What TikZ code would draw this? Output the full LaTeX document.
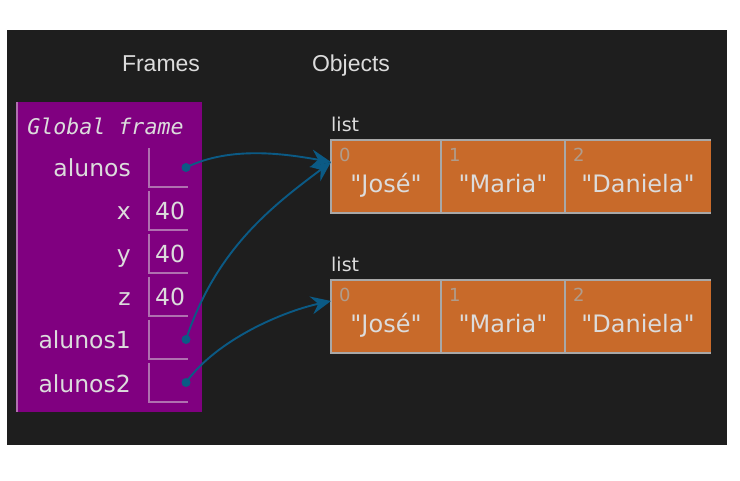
\documentclass[tikz,border=0pt]{standalone}
\usepackage{fontspec}
\usepackage{tikz}
\usetikzlibrary{arrows.meta}
\newfontfamily\valfont{DejaVu Sans}
\newfontfamily\headfont{Liberation Sans}
\newfontfamily\framefont{DejaVu Sans Mono}
\definecolor{bgdark}{HTML}{1E1E1E}
\definecolor{framepurple}{HTML}{800080}
\definecolor{framerule}{HTML}{B070B0}
\definecolor{listorange}{HTML}{C86A2A}
\definecolor{listrule}{HTML}{A8A8A8}
\definecolor{pointerblue}{HTML}{0B5A85}
\definecolor{lighttext}{HTML}{DCDCDC}
\definecolor{indexgray}{HTML}{B09C8C}
\tikzstyle{headlabel}=[text=lighttext, inner sep=0pt, anchor=base, font=\headfont\fontsize{23}{27}\selectfont]
\tikzstyle{framename}=[text=lighttext, inner sep=0pt, anchor=base, font=\framefont\itshape\fontsize{21.6}{26}\selectfont]
\tikzstyle{varname}=[text=lighttext, inner sep=0pt, anchor=base east, font=\valfont\fontsize{23.5}{27}\selectfont]
\tikzstyle{varvalue}=[text=lighttext, inner sep=0pt, anchor=base west, font=\valfont\fontsize{23.5}{27}\selectfont]
\tikzstyle{listname}=[text=lighttext, inner sep=0pt, anchor=base west, font=\valfont\fontsize{19}{23}\selectfont]
\tikzstyle{listindex}=[text=indexgray, inner sep=0pt, anchor=base west, font=\valfont\fontsize{18}{21}\selectfont]
\tikzstyle{listvalue}=[text=lighttext, inner sep=0pt, anchor=base, font=\valfont\fontsize{24}{28}\selectfont]
\tikzstyle{valuebox}=[draw=framerule, line width=1.5pt]
\tikzstyle{listbox}=[draw=listrule, line width=2pt]
\tikzstyle{pointerdot}=[circle, fill=pointerblue, inner sep=0pt, minimum size=9pt]
\tikzstyle{pointer}=[draw=pointerblue, line width=1.9pt, -{Stealth[length=20pt,width=18pt,inset=7pt]}]

\begin{document}
\begin{tikzpicture}[x=1pt,y=-1pt]
	\useasboundingbox (0,0) rectangle (740,481);
	\fill[white] (0,0) rectangle (740,481);
	\fill[bgdark] (7,30) rectangle (727,445);
	% headers
	\node[headlabel] (frameshead) at (161,71.5) {Frames};
	\node[headlabel] (objectshead) at (351,71.5) {Objects};
	% global frame
	\fill[framepurple] (16,102) rectangle (202,412);
	\draw[framerule, line width=2pt] (17,102) -- (17,412);
	\node[framename] (globalframe) at (105.5,134.5) {Global frame};
	\draw[valuebox] (149,148) -- (149,187) -- (188,187);
	\draw[valuebox] (149,191) -- (149,230) -- (188,230);
	\draw[valuebox] (149,234) -- (149,273) -- (188,273);
	\draw[valuebox] (149,277) -- (149,316) -- (188,316);
	\draw[valuebox] (149,320) -- (149,359) -- (188,359);
	\draw[valuebox] (149,363) -- (149,402) -- (188,402);
	\node[varname] (alunos) at (131,177) {alunos};
	\node[varname] (x) at (131,220) {x};
	\node[varname] (y) at (131,263) {y};
	\node[varname] (z) at (131,306) {z};
	\node[varname] (alunos1) at (131,349) {alunos1};
	\node[varname] (alunos2) at (131,392) {alunos2};
	\node[varvalue] (xval) at (155,220) {40};
	\node[varvalue] (yval) at (155,263) {40};
	\node[varvalue] (zval) at (155,306) {40};
	\node[pointerdot] (alunosptr) at (186,167.5) {};
	\node[pointerdot] (alunos1ptr) at (186,339.5) {};
	\node[pointerdot] (alunos2ptr) at (186,382.5) {};
	% the two lists
	\foreach \n/\dy in {1/0,2/140} {
		\fill[listorange] (331,140+\dy) rectangle (711,213+\dy);
		\draw[listbox] (711,140+\dy) -- (331,140+\dy) -- (331,213+\dy) -- (711,213+\dy);
		\draw[listbox] (441,140+\dy) -- (441,213+\dy);
		\draw[listbox] (565,140+\dy) -- (565,213+\dy);
		\node[listname] (list\n name) at (331,131.5+\dy) {list};
		\node[listindex] (list\n i0) at (339,162+\dy) {0};
		\node[listindex] (list\n i1) at (449,162+\dy) {1};
		\node[listindex] (list\n i2) at (573,162+\dy) {2};
		\node[listvalue] (list\n v0) at (386,193+\dy) {"José"};
		\node[listvalue] (list\n v1) at (503,193+\dy) {"Maria"};
		\node[listvalue] (list\n v2) at (638,193+\dy) {"Daniela"};
	}
	\coordinate (list1in) at (331,162);
	\coordinate (list2in) at (331,301);
	% pointers
	\draw[pointer] (alunosptr.center) .. controls +(45,-22) and +(-45,-8) .. (list1in);
	\draw[pointer] (alunos1ptr.center) .. controls +(30,-90) and +(-60,45) .. (list1in);
	\draw[pointer] (alunos2ptr.center) .. controls +(30,-42) and +(-50,11) .. (list2in);
\end{tikzpicture}
\end{document}
